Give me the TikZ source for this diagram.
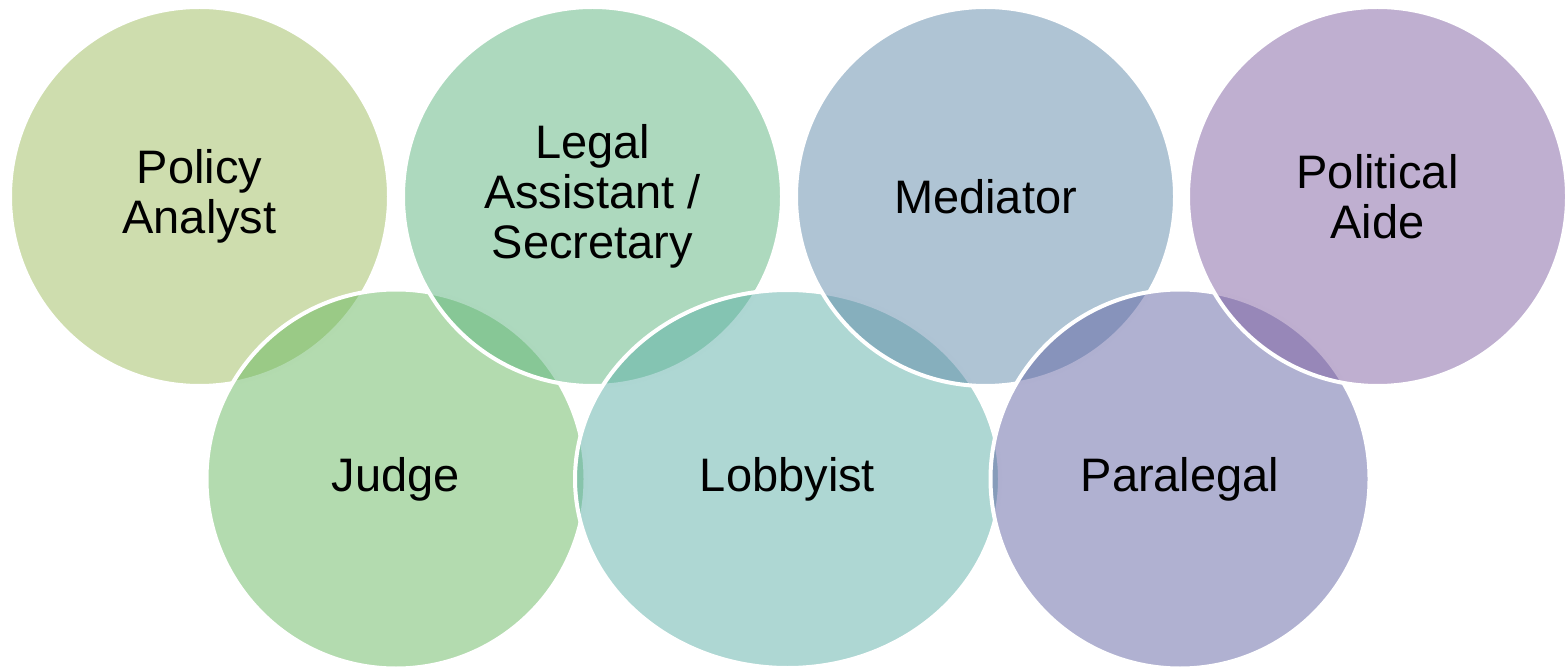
\documentclass[tikz,border=0pt]{standalone}
\usepackage{fontspec}
\setmainfont{Liberation Sans}
\usetikzlibrary{shapes.geometric}

\definecolor{policycol}{RGB}{157,187,93}
\definecolor{judgecol}{RGB}{103,183,95}
\definecolor{legalcol}{RGB}{91,179,125}
\definecolor{lobbycol}{RGB}{93,175,167}
\definecolor{mediatorcol}{RGB}{95,137,169}
\definecolor{paracol}{RGB}{97,99,163}
\definecolor{politicalcol}{RGB}{127,95,161}

\tikzset{
  ring/.style={circle, draw=white, line width=2pt, fill opacity=0.5, text opacity=1,
    minimum size=189.5pt, inner sep=0pt, align=center,
    font=\fontsize{23.5pt}{25pt}\selectfont},
  wide ring/.style={ring, ellipse, minimum width=212.5pt, minimum height=189pt}
}

\begin{document}
\begin{tikzpicture}[x=0.5pt, y=-0.5pt]

\useasboundingbox ( 0, 0 ) rectangle ( 1566, 667 );

%% Rings, drawn left to right so each white rim lies over the one before
\node [ring, fill=policycol] (policy) at ( 199.5, 196.5 ) {Policy\\Analyst};
\node [ring, fill=judgecol] (judge) at ( 396, 479 ) {Judge};
\node [ring, fill=legalcol] (legal) at ( 592.5, 196.5 ) {Legal\\Assistant /\\Secretary};
\node [wide ring, fill=lobbycol] (lobbyist) at ( 787.5, 479 ) {Lobbyist};
\node [ring, fill=mediatorcol] (mediator) at ( 985.5, 196.5 ) {Mediator};
\node [ring, fill=paracol] (paralegal) at ( 1180, 479 ) {Paralegal};
\node [ring, fill=politicalcol] (political) at ( 1377.5, 196.5 ) {Political\\Aide};

\end{tikzpicture}
\end{document}
